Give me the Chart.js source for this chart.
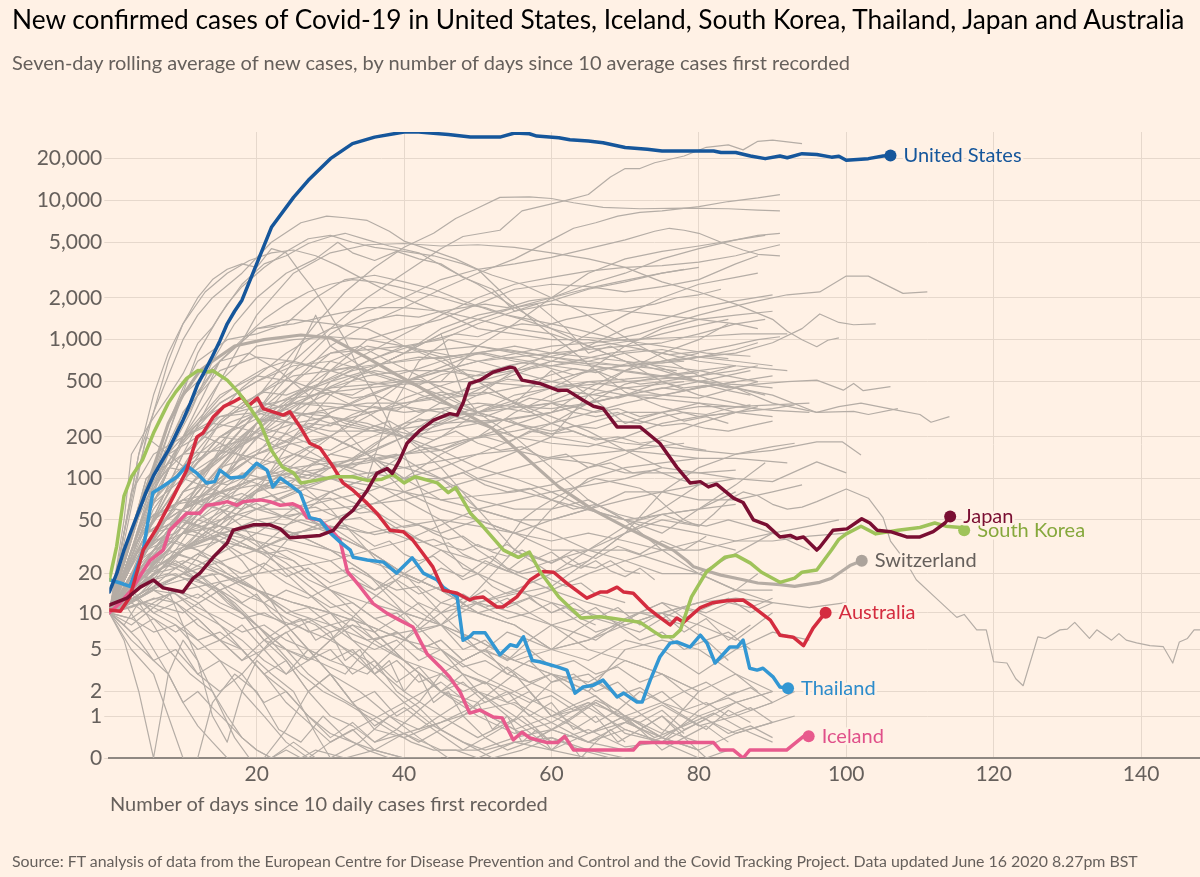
<!DOCTYPE html>
<html><head><meta charset="utf-8">
<script src="https://cdn.jsdelivr.net/npm/chart.js@4.4.0/dist/chart.umd.min.js"></script>
<style>
html,body{margin:0;padding:0;background:#fff1e5;}
#wrap{position:relative;width:1200px;height:877px;overflow:hidden;font-family:Lato,"Open Sans",sans-serif;}
canvas{position:absolute;left:0;top:0;}
.t{position:absolute;white-space:nowrap;line-height:1;}
#title{left:12px;top:6px;font-size:26.3px;color:#000;}
#sub{left:12px;top:52px;font-size:20px;color:#66605c;}
#xt{left:110px;top:793px;font-size:20px;color:#66605c;}
#src{left:12px;top:853px;font-size:15.9px;color:#66605c;}
</style></head>
<body><div id="wrap">
<canvas id="c" width="1200" height="877"></canvas>
<div class="t" id="title">New confirmed cases of Covid-19 in United States, Iceland, South Korea, Thailand, Japan and Australia</div>
<div class="t" id="sub">Seven-day rolling average of new cases, by number of days since 10 average cases first recorded</div>
<div class="t" id="xt">Number of days since 10 daily cases first recorded</div>
<div class="t" id="src">Source: FT analysis of data from the European Centre for Disease Prevention and Control and the Covid Tracking Project. Data updated June 16 2020 8.27pm BST</div>
</div>
<script>
// ---------- DATA ----------
const xTicks = [20, 40, 60, 80, 100, 120, 140];
const yTickValues = [0, 1, 2, 5, 10, 20, 50, 100, 200, 500, 1000, 2000, 5000, 10000, 20000];
const yTickLabels = ["0", "1", "2", "5", "10", "20", "50", "100", "200", "500", "1,000", "2,000", "5,000", "10,000", "20,000"];

// [day, 7-day average cases]
const unitedStates = [[0,14.5],[1,20],[2,30],[3,42],[4,58],[5,80],[6,105],[7,130],[8,160],[9,205],[10,264],[11,350],[12,480],[13,600],[14,760],[15,980],[16,1300],[17,1600],[18,1920],[20,3500],[22,6400],[25,10500],[27,13900],[30,19900],[33,25500],[36,28400],[40,30900],[42,30900],[46,29600],[49,28400],[53,28400],[55,30400],[57,30000],[58,28900],[61,28100],[62.5,27200],[65,26600],[67,25900],[70,23900],[73,23200],[75,22600],[82,22600],[83,22000],[85,22000],[87,20800],[89,19900],[91,20800],[92,20200],[94,21600],[96,21300],[98,20400],[99,20700],[100,19400],[103,19900],[105,20800],[106,21000]];
const southKorea = [[0,17.9],[1,32],[2,75],[3,103],[4.5,136],[6,213],[8,350],[9,420],[10.5,527],[12,600],[13.5,585],[14,600],[16,512],[17.5,420],[19,330],[20.5,250],[22,160],[23.5,121],[25,110],[26,93],[28,97],[30.5,103],[33,103],[35,97],[37,99],[38.5,107],[40,93],[41.5,103],[44.5,93],[46,79],[47,86],[49,56],[50.5,46],[53.5,30],[55.5,26.5],[57,29],[58.5,20.5],[61,13.3],[64,9.1],[66.5,9.3],[68,9.1],[70,8.75],[72,8.4],[74,7],[75,6.4],[76.5,6.4],[77.5,7.3],[79,13.3],[81,20.5],[83.5,26.5],[85,27.5],[87,24],[88.5,20.5],[91,17.2],[93,18.5],[94,20.5],[96,21.3],[97,25.3],[98,30],[99,36],[100,39.5],[102,45],[104,39.5],[107,42],[110,44],[112,47.5],[113.5,45],[115.5,44],[116,42]];
const japan = [[0,11.5],[2.4,13],[4.2,15.8],[6,17.9],[7.3,15.6],[10,14.5],[11.4,18.5],[12.3,20.2],[14.1,26.5],[16,33.8],[16.8,42],[19.5,46],[21.8,46],[23.2,43],[24.5,37],[26,37.5],[28.6,38.5],[30.4,42],[31.7,51],[33.1,59],[35,82],[36.3,109],[37.7,118],[38.4,109],[39.4,136],[40.4,180],[42.2,224],[44,264],[46.2,294],[47.2,287],[48,350],[48.9,485],[50.3,512],[52.1,585],[54.4,635],[55,625],[56,512],[58.4,485],[60.8,434],[62.1,434],[64.3,367],[65.7,332],[67,320],[68.9,236],[72,236],[74.7,180],[77,121],[78.8,93],[80.2,95],[81.3,87],[82.4,91],[84.7,72],[86,67],[87.4,50],[89.2,46],[91,37.5],[92.4,38.5],[93.3,36.5],[94.2,37.5],[96,30],[96.4,31.5],[98.2,42],[100.1,43],[102.1,51],[103.2,47.5],[104.2,42],[106,41],[108.2,37.5],[110,37.5],[111.8,41],[113.4,47.5],[114.1,53]];
const australia = [[0,10.5],[1.5,10.3],[2.8,13.3],[4.6,30],[6.5,44],[8.7,74],[10.5,115],[11.9,200],[12.7,213],[14.1,278],[15.5,330],[16.8,357],[18,387],[18.9,336],[20.1,380],[20.9,320],[22.2,303],[23.6,287],[24.5,303],[25.9,236],[27.2,180],[28.6,166],[30.4,121],[31.7,93],[33.1,82],[35,66],[36.3,56],[38.1,42],[39.9,41],[41.2,35.5],[42.2,30],[43.9,22.5],[45.3,15],[47.2,14.2],[48.9,12.6],[49.4,13],[50.7,13.3],[52.6,11.1],[53.4,11.1],[55.3,13.3],[57.1,17.9],[58.9,20.8],[60.3,20.5],[62.1,16.9],[64.8,13],[66.6,14.5],[67.5,14.5],[68.9,15.8],[69.8,14.5],[71.1,14.2],[73,11],[74.3,9.6],[76.1,8],[77,9.1],[77.9,8.4],[80.2,11],[81.9,12],[83.8,12.4],[86,12.6],[87.4,11.1],[89.7,8.75],[91,6.6],[92.8,6.35],[94.2,5.4],[95.5,7.55],[96.9,9.6],[97.2,10]];
const thailand = [[0,18],[1.5,17],[2.8,16],[4.6,30],[5.9,79],[7.3,88],[9.2,103],[10.5,124],[11.9,109],[13.2,93],[14.3,95],[15,115],[16.4,101],[18.2,103],[20,129],[21.4,115],[22.2,87],[23.2,101],[24.5,90],[25.9,79],[27.2,52],[28.6,49.8],[29.9,40.5],[31.3,34.5],[32.7,30],[33.1,26.5],[35,25.3],[37.2,24.4],[39,20.2],[41.1,26.3],[42.6,20.2],[44.5,17.9],[45.3,15.8],[47.2,13.3],[48,6],[48.9,6.4],[49.4,6.9],[51,6.9],[53,4.5],[54.4,5.5],[55.3,5.3],[56.2,6.4],[57.4,4],[58.4,3.9],[60.8,3.5],[62.1,3.27],[63.2,1.92],[64.3,2.23],[65.7,2.33],[67,2.62],[68.9,1.74],[69.8,1.92],[71.6,1.52],[72.3,1.52],[73.4,2.62],[74.7,4.3],[76.1,5.67],[77,5.8],[78.8,5.25],[80.2,6.6],[81.1,5.67],[82.2,3.8],[84.2,5.25],[85.2,5.25],[86,6],[86.9,3.4],[87.9,3.27],[88.7,3.4],[90.1,2.8],[91,2.23],[92.1,2.17]];
const iceland = [[0,10],[1.5,12],[3,15],[4.6,21],[5.5,25],[7.3,30],[8.2,42],[10.5,56],[12.3,56],[13.2,64],[15,66],[16,68],[17.3,64],[18.2,68],[20.5,70],[21.8,68],[23.2,64],[24.9,65.5],[25.9,62],[26.8,52],[28.6,49.8],[30.4,40.5],[31.3,35.5],[32.3,20.8],[34,16],[35.8,11.8],[37.7,9.9],[39.4,8.75],[41.2,7.7],[43.1,4.6],[44.9,3.5],[46.2,2.8],[47.6,1.97],[48.9,1.1],[50.3,1.21],[52.1,0.97],[53.3,0.94],[54.8,0.35],[56,0.53],[57.1,0.39],[59.4,0.29],[60.8,0.29],[61.8,0.43],[63,0.14],[71.1,0.14],[72,0.29],[82,0.29],[82.9,0.14],[84.7,0.14],[86,0],[86.9,0.14],[91.9,0.14],[94.2,0.43],[94.9,0.43]];
const switzerland = [[0,10],[2,25],[4,60],[6,120],[8,250],[10,400],[12.3,600],[14,700],[17,900],[21,1000],[26,1080],[30,1030],[35,740],[39,560],[42,460],[45,370],[48,300],[52,230],[56,150],[61,87],[65.7,59],[70,44.5],[73,37],[76.5,30],[78.4,25],[79.3,22.5],[81,21],[83,19.5],[86,18],[88,17],[91,16.5],[93,16],[96.4,17.2],[98,18.5],[99.2,20.5],[100.5,23],[102.1,25]];

// other countries: flat lists of day, value
const otherCountries = [
 [0,10, 2,40, 4,150, 6,300, 8,550, 10,1000, 12,1500, 14,2000, 18,3000, 22,5000, 26,6900, 29.5,7700, 32,7500, 35,7170, 38,6000, 40,5100, 43,4500, 47,3800, 50,3200, 54,2000, 58,1300, 62,900, 66,600, 70,420, 75,330, 80,280, 85,300, 90,320, 93,340],
 [0,10, 2,50, 3,150, 5.5,250, 8,390, 10,570, 12,940, 14,1230, 16,1800, 18,2400, 21,3300, 24,4300, 27,5300, 30,5600, 33,5000, 36,4600, 40,4300, 44,4000, 48,3500, 52,2900, 56,2500, 60,2000, 64,1600, 68,1200, 72,900, 76,700, 80,550, 85,450, 90,350, 96,300, 99,330, 102,350, 107,310, 110,290, 111.5,255, 114,280],
 [0,10, 3,30, 6,100, 9,300, 12,800, 15,1500, 18,2500, 21,3500, 24,4000, 27,4900, 30,5500, 32,5800, 35,5200, 38,4700, 42,4200, 46,3200, 50,2500, 55,1700, 60,1200, 65,900, 70,700, 75,600, 80,500, 85,450, 90,400, 96,300, 101,305, 103,290, 107,320],
 [0,10, 4,40, 8,150, 11,300, 14,700, 17,1300, 20,2000, 24,3000, 28,3800, 31,5000, 33,4200, 36,3700, 39,4300, 42,3800, 45,3500, 48,2800, 52,2300, 55,1600, 58,1800, 62,1200, 65,800, 68,900, 72,700, 76,600, 80,500, 84,450, 88,480, 92,500, 96,512, 99.6,434, 101,485, 102.3,430, 106,460],
 [0,10, 5,40, 10,150, 15,500, 20,1500, 25,3000, 30,4200, 35,4800, 40,4900, 45,4700, 50,4800, 55,4600, 60,4200, 65,3800, 70,3300, 75,2600, 80,2200, 85,1800, 90,1400, 92,1150, 94,1000, 96,890, 97.5,990, 99,1030],
 [0,10, 2,40, 4,150, 6,400, 8,800, 10,1300, 13,2200, 16,3000, 19,3700, 22,4200, 25,4400, 28,4000, 31,3400, 34,2800, 38,2200, 42,1800, 46,1500, 50,1200, 55,1100, 60,1000, 65,1000, 70,900, 75,950, 80,1100, 85,1300, 89,1400],
 [0,10, 2,30, 4,60, 6,120, 8,250, 10,450, 12,700, 16,1000, 20,1100, 24,1300, 28,2000, 32,2700, 36,2900, 40,2600, 44,2300, 48,1900, 52,1600, 56,1400, 60,1200, 64,1050, 68,1000, 72,1100, 76,1300, 80,1500, 84,1700, 88,1900, 92,2100, 96.4,2200, 100,2860, 103,2860, 107.7,2150, 111,2200],
 [0,10, 4,60, 8,120, 12,110, 16,150, 20,250, 25,350, 30,450, 35,550, 40,600, 45,600, 50,550, 55,600, 60,650, 65,600, 70,650, 75,700, 80,750, 85,800, 90,950, 94,1200, 96.4,1530, 99,1330, 101,1280, 104,1300],
 [0,10, 4,18, 8,40, 12,90, 16,200, 20,380, 24,700, 28,1300, 32,2200, 36,3300, 40,4600, 44,5800, 47,7400, 50,8800, 53,10500, 57,10600, 60,10300, 63,9600, 67,8900, 72,8700, 78,8800, 84,8700, 88,8500, 91,8400],
 [0,10, 5,25, 10,60, 15,150, 20,300, 25,700, 30,1200, 35,2000, 40,3000, 45,4500, 48,5500, 53,6100, 56,8400, 62,10000, 65,11000, 68,14700, 70,16900, 72,16900, 74,18600, 78,20800, 81,24000, 84,25000, 86,23000, 88,26500, 90,27000, 94,25500],
 [0,10, 5,20, 10,45, 15,90, 20,250, 25,500, 30,900, 35,1300, 40,1700, 45,2300, 50,3000, 55,3800, 60,5200, 63,6300, 66,6900, 69,7700, 72,8200, 75,8400, 80,9000, 84,9800, 88,10400, 91,11000],
 [0,10, 5,30, 10,80, 15,150, 20,300, 25,600, 30,1100, 35,1600, 40,2000, 45,2700, 50,3200, 55,3500, 60,3900, 65,4500, 70,5200, 74,6000, 76,6300, 78,6100, 80,5800, 83,5000, 86,4400, 88,4100, 91,4000],
 [0,10, 5,40, 10,150, 15,280, 20,330, 25,380, 30,420, 35,450, 40,480, 45,500, 50,900, 55,1300, 60,2000, 65,3000, 70,3800, 75,4300, 80,4700, 85,5200, 88,5600, 91,5800],
 [0,10, 5,20, 10,60, 15,120, 20,250, 25,400, 30,600, 35,800, 40,1100, 45,1500, 50,2000, 55,2500, 60,2800, 65,3100, 70,3300, 75,3400, 80,3600, 85,4000, 88,4400, 91,4800],
 [0,10, 4,60, 8,150, 12,200, 16,250, 20,300, 25,400, 30,500, 35,600, 40,800, 45,1200, 50,1500, 55,1700, 60,2000, 65,2500, 70,3000, 75,3800, 80,4500, 85,5200, 89,5600],
 [0,10, 5,30, 10,80, 15,100, 20,150, 25,300, 30,600, 35,1000, 40,1200, 45,1400, 50,1800, 55,2300, 60,2500, 65,2400, 70,2200, 75,2400, 80,2700, 85,3500, 88,4000],
 [0,10, 10,20, 20,80, 25,200, 30,400, 35,600, 40,800, 45,1100, 50,1400, 55,1700, 60,1900, 65,2300, 70,2600, 75,3000, 80,3300],
 [0,10, 5,50, 10,200, 15,700, 20,1200, 25,1300, 30,1500, 35,1700, 40,1700, 45,1600, 50,1400, 55,1200, 60,1100, 65,900, 70,700, 75,500, 80,400, 85,350, 87,330],
 [0,10, 5,60, 10,300, 15,700, 20,1200, 25,1400, 30,1300, 35,1200, 40,900, 45,700, 50,500, 55,350, 60,280, 65,220, 70,160, 75,120, 80,110, 85,100, 90,95, 96,132, 100,110],
 [0,10, 5,50, 10,200, 15,500, 20,900, 25,1000, 30,1050, 35,1000, 40,900, 45,750, 50,500, 55,350, 60,250, 65,200, 70,180, 75,170, 80,160, 85,150, 90,160, 96,184, 99.5,184, 102,148],
 [0,10, 5,100, 10,200, 15,350, 20,500, 25,700, 28,1500, 30,900, 35,600, 40,800, 45,1100, 48,400, 50,300, 55,350, 60,600, 65,400, 70,250, 75,300, 80,350, 85,300, 90,280],
 [0,10, 5,15, 10,30, 15,60, 20,120, 25,250, 30,500, 35,700, 40,900, 45,1000, 50,1300, 55,1600, 60,1800, 65,1700, 70,1600, 75,1500, 80,1400, 85,1300, 88,1200],
 [0,10, 10,20, 20,40, 25,60, 30,80, 35,100, 38,300, 42,700, 46,1000, 50,900, 55,800, 60,700, 65,650, 70,600, 75,550, 80,500, 85,450, 89,400],
 [0,10, 5,80, 10,300, 15,600, 20,750, 25,700, 30,600, 35,500, 40,450, 45,350, 50,300, 55,250, 60,220, 65,250, 70,300, 75,300, 80,330, 85,330, 90,340, 95,350],
 [0,10, 5,80, 10,400, 15,700, 19,800, 23,600, 27,400, 31,250, 35,150, 40,80, 45,60, 50,50, 55,40, 60,35, 65,40, 70,35, 75,30, 80,30, 85,35, 90,40, 95,45, 99,50],
 [0,10, 5,30, 10,100, 15,250, 20,400, 25,600, 30,800, 34,900, 38,700, 42,550, 46,400, 50,300, 55,200, 60,120, 65,70, 70,50, 75,30, 80,20, 85,15, 90,12],
 [0,10, 5,50, 10,200, 15,400, 20,550, 25,500, 30,400, 35,300, 40,200, 45,120, 50,60, 55,30, 60,20, 65,25, 70,40, 75,80, 80,120, 85,150, 90,170, 93,180],
 [0,10, 5,30, 10,100, 15,200, 20,300, 25,350, 30,350, 35,330, 40,300, 45,320, 50,350, 55,330, 60,320, 65,350, 70,400, 75,400, 80,380, 85,450, 88,500],
 [0,10, 5,30, 10,100, 15,200, 20,300, 25,350, 30,330, 35,300, 40,330, 45,300, 50,250, 55,200, 60,180, 65,170, 70,200, 75,250, 80,280, 85,300, 88,330],
 [0,10, 5,200, 8,150, 12,100, 16,150, 20,200, 25,250, 30,280, 35,250, 40,200, 45,160, 50,120, 55,100, 60,80, 65,60, 70,50, 75,45, 80,40, 85,35, 90,35, 95,38, 100,40],
 [0,10, 3,80, 6,150, 10,200, 14,250, 18,230, 22,200, 26,170, 30,130, 35,100, 40,70, 45,50, 50,30, 55,20, 60,15, 65,12, 70,10, 75,10, 80,12, 85,13, 90,12, 95,11, 100,12],
 [0,10, 5,40, 10,100, 15,200, 20,270, 25,250, 30,200, 35,150, 40,100, 45,70, 50,60, 55,50, 60,50, 65,60, 70,80, 75,80, 80,70, 85,70, 90,80, 94,90],
 [0,10, 5,50, 10,200, 15,280, 20,300, 25,250, 30,220, 35,220, 40,230, 45,250, 50,260, 55,270, 60,300, 65,350, 70,400, 75,500, 80,550, 85,600, 88,650],
 [0,10, 5,40, 10,100, 15,150, 20,200, 25,280, 30,320, 35,350, 40,350, 45,380, 50,400, 55,450, 60,500, 65,600, 70,650, 75,700, 80,750, 85,850, 88,950],
 [0,10, 5,60, 10,100, 15,80, 20,60, 25,80, 30,120, 35,150, 40,200, 45,300, 50,400, 55,600, 60,800, 65,1100, 70,1500, 75,2000, 80,2500, 85,2800, 88,3000],
 [0,10, 10,40, 20,80, 30,120, 40,200, 50,300, 60,450, 65,600, 70,900, 75,1200, 80,1400, 85,1500, 90,1600],
 [0,10, 10,60, 20,150, 30,250, 40,350, 50,450, 60,700, 65,900, 70,1200, 75,1400, 80,1700, 85,1900, 90,2100],
 [0,10, 10,60, 20,100, 30,120, 40,150, 50,200, 60,300, 65,450, 70,600, 75,800, 80,1000, 84,1300],
 [0,10, 10,60, 20,250, 30,450, 40,500, 50,500, 60,450, 70,500, 80,550, 85,650],
 [0,10, 10,40, 20,200, 30,700, 35,900, 40,800, 50,900, 60,750, 70,650, 77,600],
 [0,10, 10,30, 20,80, 30,200, 40,500, 50,800, 55,900, 60,800, 70,700, 80,600, 88,500],
 [0,10, 10,80, 15,150, 20,250, 25,300, 30,250, 40,200, 50,250, 60,300, 70,400, 80,500, 87,600],
 [0,10, 10,80, 20,250, 25,300, 30,280, 40,200, 50,100, 60,70, 70,50, 80,60, 85,80],
 [0,10, 5,100, 10,150, 15,160, 20,140, 25,120, 30,100, 35,80, 40,50, 45,40, 50,50, 55,40, 60,30, 70,30, 80,20, 90,40, 95,30],
 [0,10, 5,40, 10,60, 15,80, 20,100, 25,120, 30,130, 35,140, 40,120, 45,100, 50,60, 55,50, 60,40, 65,30, 70,25, 75,20, 80,20, 85,15, 90,15],
 [0,10, 5,40, 10,60, 15,80, 20,90, 25,60, 30,40, 35,30, 40,20, 45,15, 50,10, 55,8, 60,5, 65,4, 70,6, 75,5, 80,3, 85,5, 90,7, 95,6],
 [0,10, 5,80, 10,150, 13,200, 16,170, 20,120, 25,100, 30,60, 35,30, 40,15, 45,8, 50,5, 55,4, 60,3, 65,2, 70,5, 75,6, 80,5, 85,3, 90,2],
 [0,10, 5,50, 10,70, 15,80, 20,60, 25,50, 30,40, 35,30, 40,20, 45,10, 50,5, 55,3, 60,1, 65,1.3, 70,0.6, 75,0.3, 80,1.2, 85,2],
 [0,10, 5,50, 10,70, 15,60, 20,50, 25,40, 30,30, 35,20, 40,12, 45,8, 50,6, 55,4, 60,3, 65,2, 70,1, 75,1.5, 80,1, 85,0.5, 90,0.8],
 [0,10, 5,40, 10,50, 15,40, 20,35, 25,30, 30,25, 35,15, 40,10, 45,5, 50,2, 55,1, 60,0.3, 65,0.6, 70,0.2, 75,0.3, 80,0.8, 85,1.5, 90,2],
 [0,10, 5,30, 10,50, 15,40, 20,30, 25,25, 30,15, 35,12, 40,10, 45,8, 50,6, 55,4, 60,5, 65,6, 70,8, 75,10, 80,12, 85,15, 88,20],
 [0,10, 4,20, 8,30, 12,25, 16,20, 20,15, 25,12, 30,10, 35,8, 40,6, 45,5, 50,3, 55,2, 60,1.2, 65,0.5, 70,0.8, 75,1.4, 80,0.7, 85,1, 90,1.5],
 [0,10, 5,20, 10,30, 15,35, 20,30, 25,40, 30,45, 35,40, 40,45, 45,50, 50,45, 55,40, 60,50, 65,60, 70,70, 75,80, 80,90, 85,100],
 [0,10, 5,30, 10,50, 15,70, 20,100, 25,90, 30,80, 35,60, 40,40, 45,30, 50,20, 55,15, 60,12, 65,10, 70,8, 75,10, 80,8, 85,6, 90,10],
 [0,10, 5,30, 10,40, 15,35, 20,30, 25,20, 30,12, 35,8, 40,4, 45,3, 50,2, 55,1.4, 60,0.6, 65,0.3, 70,0.14, 75,0.4, 80,1, 85,1.5, 90,2],
 [0,10, 5,15, 10,20, 15,15, 20,10, 25,8, 30,6, 35,4, 40,2, 45,1, 50,0.4, 55,0.9, 60,2.5, 65,3, 70,1.5, 75,0.6, 80,0.3],
 [0,10, 4,25, 8,35, 12,30, 16,20, 20,15, 24,10, 28,8, 32,5, 36,3, 40,1.5, 44,0.7, 48,0.3, 52,0, 56,0.14, 60,0.4, 64,0.14, 68,0],
 [0,10, 3,15, 6,10, 9,8, 12,6, 15,4, 18,3, 22,6, 26,8, 30,10, 35,6, 40,4, 45,2, 50,1, 55,0.5, 60,0.8, 65,0.3, 70,0.6, 75,0.3, 80,0],
 [0,10, 2,8, 4,6, 6,4, 8,3, 10,1.5, 12,2, 14,1.3, 16,0.8, 18,0.4, 20,0.14, 22,0, 26,0, 28,0.14, 32,0, 36,0.14, 40,0],
 [0,10, 3,30, 6,50, 9,65, 12,70, 15,60, 18,45, 21,30, 24,20, 27,14, 30,10, 33,6, 36,4, 39,2, 42,1.3, 45,0.6, 48,0.3, 51,0.14, 55,0.3, 60,0.14, 65,0, 80,0],
 [0,10, 2,12, 4,8, 6,5, 8,3, 10,1.5, 12,0.7, 14,0.3, 16,0, 22,0, 24,0.14, 26,0, 30,0],
 [0,10, 3,9, 6,12, 9,15, 12,12, 15,8, 18,5, 21,3, 24,2, 27,1, 30,0.5, 33,0.3, 36,0.14, 40,0.5, 45,0.8, 50,1.2, 55,1.5, 60,0.8, 65,1.5, 70,0.5, 75,0.3],
 [0,10, 3,15, 6,20, 9,22, 12,18, 15,14, 18,10, 21,6, 24,4, 27,2, 30,1, 33,0.7, 36,0.3, 40,0.5, 45,0.14, 50,0.14, 55,0.4, 60,0.6, 65,0.3, 70,0.8, 75,0.4, 80,0.14],
 [0,10, 3,25, 6,40, 9,50, 12,45, 15,35, 18,25, 21,15, 24,8, 27,5, 30,3, 33,1.5, 36,0.6, 40,0.4, 45,0.8, 50,1.4, 55,2, 60,3, 65,2.5, 70,4, 75,3, 80,2, 85,3, 88,2],
 [0,10, 3,20, 6,18, 9,14, 12,10, 15,8, 18,6, 21,4, 24,3, 27,5, 30,4, 35,3, 40,6, 45,12, 50,10, 55,8, 60,5, 65,6, 70,9, 75,12, 80,10, 85,7],
 [0,10, 3,15, 6,20, 9,25, 12,20, 15,15, 18,10, 21,6, 24,5, 27,4, 30,6, 35,12, 40,20, 45,30, 50,25, 55,20, 60,25, 65,30, 70,40, 75,50, 80,45],
 [0,10, 2,15, 4,20, 6,18, 8,15, 10,8, 12,4, 14,2, 16,1, 18,0.4, 20,0.14, 22,0, 25,0.3, 28,0, 40,0],
 [0,10, 3,12, 6,15, 9,12, 12,8, 15,6, 18,5, 21,3, 24,1.5, 27,0.8, 30,0.3, 33,0.6, 36,0.14, 40,0, 45,0],
 [0,10, 2,14, 5,18, 8,20, 11,18, 14,16, 17,12, 20,8, 23,5, 26,3, 29,2, 32,1.5, 35,1, 38,0.6, 41,0.3, 44,0.14, 47,0.14, 50,0, 55,0.3, 60,0.4, 65,0.14, 70,0],
 [0,10, 5,25, 10,40, 15,45, 20,40, 25,35, 30,30, 35,25, 40,20, 45,15, 50,10, 55,12, 60,15, 65,20, 70,25, 75,30, 80,35, 85,30],
 [0,10, 5,20, 10,30, 15,40, 20,45, 25,40, 30,30, 35,20, 40,10, 45,8, 50,15, 55,30, 60,60, 65,100, 70,120, 75,130, 80,140],
 [0,10, 5,15, 10,18, 15,20, 20,15, 25,12, 30,10, 35,8, 40,6, 45,10, 50,12, 55,14, 60,16, 65,25, 70,40, 75,55, 80,60, 85,65],
 [0,10, 5,30, 10,60, 15,80, 20,100, 25,110, 30,100, 35,90, 40,80, 45,70, 50,75, 55,80, 60,90, 65,120, 70,150, 75,200, 80,250, 85,300],
 [0,10, 5,20, 10,40, 15,50, 20,60, 25,60, 30,70, 35,80, 40,100, 45,150, 50,200, 55,300, 60,400, 65,500, 70,520, 75,550, 80,580],
 [0,10, 10,30, 20,70, 30,100, 40,120, 50,150, 60,250, 70,350, 80,450, 85,500],
 [0,10, 10,30, 20,50, 30,60, 40,70, 50,100, 60,140, 70,160, 78,180],
 [0,10, 10,30, 20,60, 30,100, 40,250, 50,500, 60,700, 70,650, 78,700],
 [0,10, 10,30, 20,80, 30,150, 40,250, 50,300, 60,350, 70,450, 78,500],
 [0,10, 5,40, 10,60, 15,90, 20,120, 25,150, 30,130, 35,110, 40,100, 45,120, 50,150, 55,160, 60,140, 65,130, 70,110, 75,110, 80,110, 85,115],
 [0,10, 5,30, 10,60, 15,120, 20,150, 25,180, 30,200, 35,150, 40,100, 45,100, 50,70, 55,60, 60,60, 65,70, 70,50, 75,40, 80,60, 85,90, 89,130],
 [0,10, 5,20, 10,40, 15,45, 20,35, 25,25, 30,15, 35,8, 40,4, 45,2, 50,1.2, 55,0.6, 60,1, 65,1.5, 70,1, 75,0.4],
 [0,10, 5,20, 10,25, 15,20, 20,15, 25,10, 30,8, 35,6, 40,7, 45,8, 50,12, 55,15, 60,20, 65,30, 70,45, 75,60, 80,90],
 [0,10, 4,20, 8,25, 12,20, 16,12, 20,8, 24,5, 28,4, 32,3, 36,6, 40,4, 45,2, 50,1.5, 55,3, 60,1, 65,0.5, 70,1, 75,0.5, 80,2],
 [0,10, 5,60, 10,120, 15,170, 20,200, 25,150, 30,120, 35,130, 40,150, 45,160, 50,200, 55,220, 60,250, 65,350, 70,480, 75,550, 80,600, 85,650],
 [0,10, 5,20, 10,30, 15,40, 20,30, 25,50, 30,80, 35,100, 40,150, 45,200, 50,300, 55,400, 60,450, 65,500, 70,450, 75,400, 80,450, 85,500, 90,550],
 [0,10, 10,20, 20,30, 30,50, 40,80, 50,120, 60,200, 65,400, 70,600, 75,700, 80,800],
 [0,10, 5,12, 10,10, 15,15, 20,20, 25,40, 30,45, 35,30, 40,20, 45,15, 50,12, 55,10, 60,8, 65,5, 70,4, 75,3, 80,2],
 [0,10, 10,15, 20,20, 30,25, 40,35, 50,60, 60,80, 70,100, 75,120],
 [0,10, 2,6, 4,2, 6,0, 8,3, 10,6, 12,4, 14,1, 16,0.3, 18,2, 20,4, 22,3, 25,2, 28,0.5, 30,0, 34,0.3, 38,1, 42,0.4, 46,0],
 [0,10, 3,5, 6,3, 8,1, 10,0, 12,0, 14,1.5, 17,3, 20,2, 23,0.6, 26,0.3, 29,1, 32,0.4, 35,0.14, 38,0],
 [0,10, 2,8, 4,12, 6,8, 8,5, 11,3, 14,2, 17,0.4, 19,0, 21,0, 24,0.6, 27,2, 30,3, 33,1.5, 36,0.7, 40,1.3, 44,0.6, 48,0.14, 52,0.5, 56,1, 60,0.3],
 [0,10, 3,7, 6,9, 9,6, 12,3, 15,4, 18,2, 21,1, 24,0.3, 27,0, 30,0.3, 35,0.8, 40,1.5, 45,2.5, 50,1.2, 55,0.6, 60,0.14, 65,0.5, 70,1, 75,0.4, 80,0.14, 85,0.5, 90,0.8],
 [0,10, 3,14, 6,10, 9,12, 12,9, 15,6, 18,4, 21,6, 24,8, 27,5, 30,3, 34,2, 38,1, 42,0.6, 46,1.2, 50,2, 54,1, 58,0.4, 62,0.8, 66,1.5, 70,0.9, 74,0.4, 78,0.7, 82,1.1, 86,0.6, 90,0.3],
 [0,10, 5,40, 10,120, 15,250, 20,400, 25,550, 30,600, 35,650, 40,700, 45,750, 50,800, 55,700, 60,650, 65,700, 70,800, 75,850, 80,750, 85,700, 90,650],
 [0,10, 5,20, 10,50, 15,100, 20,150, 25,200, 30,300, 35,400, 40,500, 45,600, 50,700, 55,750, 60,800, 65,850, 70,900, 75,800, 80,700, 85,650, 92,600],
 [0,10, 10,80, 20,300, 30,800, 40,900, 50,700, 60,500, 70,400, 80,350, 90,310, 95,300],
 [0,10, 5,60, 10,180, 15,350, 20,500, 25,650, 30,700, 35,600, 40,500, 45,400, 50,300, 55,250, 60,200, 65,180, 70,160, 75,150, 80,140, 85,140, 92,130],
 [0,10, 10,40, 20,120, 30,300, 40,500, 50,700, 60,900, 70,1000, 80,1050, 86,1100, 92,1100],
 [0,10, 3,25, 6,50, 9,80, 12,130, 15,180, 18,260, 21,300, 24,280, 27,350, 30,420, 33,400, 36,480, 39,520, 42,470, 45,560, 48,610, 51,580, 54,650, 57,700, 60,620, 63,560, 66,600, 69,520, 72,480, 75,500, 78,450, 81,470, 84,430, 87,400],
 [0,10, 3,18, 6,30, 9,45, 12,70, 15,100, 18,140, 21,170, 24,210, 27,250, 30,240, 33,290, 36,330, 39,310, 42,380, 45,420, 48,390, 51,460, 54,520, 57,500, 60,560, 63,620, 66,580, 69,650, 72,700, 75,680, 78,720, 81,760, 84,730],
 [0,10, 2,20, 4,45, 6,80, 8,130, 10,190, 12,250, 14,300, 16,340, 18,320, 20,360, 23,330, 26,290, 29,300, 32,250, 35,230, 38,260, 41,210, 44,190, 47,220, 50,180, 53,160, 56,170, 59,140, 62,150, 65,120, 68,130, 71,110, 74,115, 77,100, 80,90],
 [0,10, 3,20, 6,40, 9,60, 12,55, 15,80, 18,110, 21,100, 24,140, 27,170, 30,160, 33,200, 36,240, 39,220, 42,270, 45,250, 48,300, 51,340, 54,320, 57,380, 60,360, 63,420, 66,400, 69,380, 72,420, 75,450, 78,430, 81,470],
 [0,10, 3,30, 6,70, 9,110, 12,150, 15,200, 18,190, 21,230, 24,210, 27,180, 30,200, 33,170, 36,140, 39,150, 42,120, 45,100, 48,110, 51,90, 54,80, 57,85, 60,70, 63,60, 66,65, 69,55, 72,50, 75,55, 78,48, 81,45, 84,50, 87,45, 90,40],
 [0,10, 4,15, 8,25, 12,40, 16,60, 20,90, 24,130, 28,180, 32,230, 36,300, 40,380, 44,450, 48,520, 52,600, 56,680, 60,650, 64,720, 68,800, 72,850, 76,780, 80,820, 84,900, 88,1000, 91,1050],
 [0,10, 3,12, 6,18, 9,30, 12,50, 15,45, 18,70, 21,90, 24,85, 27,120, 30,150, 33,140, 36,180, 39,220, 42,200, 45,260, 48,300, 51,280, 54,320, 57,300, 60,350, 63,330, 66,300, 69,320, 72,280, 75,300, 78,260, 81,280, 84,250],
 [0,10, 3,40, 6,90, 9,160, 12,250, 15,380, 18,500, 21,620, 24,700, 27,650, 30,600, 33,640, 36,560, 39,500, 42,520, 45,460, 48,400, 51,420, 54,370, 57,330, 60,350, 63,300, 66,280, 69,300, 72,260, 75,240, 78,250, 81,230, 84,220, 87,240, 90,260],
 [0,10, 3,14, 6,20, 9,35, 12,55, 15,90, 18,150, 21,220, 24,300, 27,380, 30,460, 33,540, 36,600, 39,560, 42,620, 45,700, 48,760, 51,800, 54,740, 57,700, 60,760, 63,820, 66,900, 69,950, 72,1000, 75,1100, 78,1200, 81,1300, 84,1400],
 [0,10, 3,20, 6,35, 9,40, 12,60, 15,75, 18,70, 21,90, 24,110, 27,100, 30,130, 33,120, 36,150, 39,140, 42,170, 45,160, 48,190, 51,200, 54,180, 57,220, 60,210, 63,240, 66,230, 69,260, 72,250, 75,280, 78,300, 81,290, 84,320, 87,340],
 [0,10, 3,25, 6,60, 9,100, 12,180, 15,260, 18,350, 21,420, 24,400, 27,460, 30,430, 33,380, 36,400, 39,350, 42,300, 45,320, 48,270, 51,250, 54,270, 57,230, 60,210, 63,220, 66,190, 69,200, 72,180, 75,190, 78,170, 81,160],
 [0,10, 2,15, 5,25, 8,40, 11,60, 14,100, 17,150, 20,220, 23,300, 26,400, 29,500, 32,600, 35,700, 38,800, 41,900, 44,1000, 47,1100, 50,1050, 53,1200, 56,1300, 59,1250, 62,1400, 65,1500, 68,1600, 71,1700, 74,1800, 77,2000, 80,2100, 83,2300],
 [0,10, 3,30, 6,90, 9,200, 12,400, 15,700, 18,1000, 21,1400, 24,1800, 27,2200, 30,2500, 33,2700, 36,2600, 39,2400, 42,2200, 45,2000, 48,1800, 51,1700, 54,1500, 57,1400, 60,1300, 63,1200, 66,1100, 69,1000, 72,950, 75,900, 78,850, 81,800, 84,780, 87,760],
 [0,10, 3,20, 6,50, 9,100, 12,180, 15,300, 18,450, 21,600, 24,800, 27,1000, 30,1200, 33,1300, 36,1400, 39,1500, 42,1450, 45,1600, 48,1700, 51,1800, 54,1700, 57,1900, 60,2000, 63,2200, 66,2400, 69,2600, 72,2800, 75,3000, 78,3200],
 [0,10, 3,15, 6,30, 9,50, 12,80, 15,120, 18,180, 21,250, 24,350, 27,450, 30,520, 33,600, 36,650, 39,700, 42,750, 45,730, 48,780, 51,820, 54,850, 57,800, 60,750, 63,700, 66,650, 69,600, 72,570, 75,540, 78,520, 81,500, 84,480, 87,470, 90,450],
 [0,10, 3,12, 6,15, 9,14, 12,11, 15,9, 18,7, 21,8, 24,6, 27,5, 30,4, 33,5, 36,3, 39,4, 42,2.5, 45,3, 48,2, 51,2.5, 54,1.5, 57,2, 60,1, 63,1.4, 66,0.8, 69,1.2, 72,0.6, 75,1, 78,0.4, 81,0.7, 84,0.3],
 [0,10, 3,15, 6,22, 9,28, 12,25, 15,20, 18,16, 21,12, 24,9, 27,7, 30,8, 33,6, 36,5, 39,6, 42,4, 45,5, 48,3.5, 51,4, 54,3, 57,2.5, 60,3, 63,2, 66,2.5, 69,1.8, 72,2.2, 75,1.5, 78,2, 81,1.4, 84,1.7, 87,1.2, 90,1.5],
 [0,10, 3,8, 6,11, 9,9, 12,6, 15,7, 18,5, 21,3, 24,4, 27,2, 30,3, 33,1.5, 36,2, 39,1, 42,1.5, 45,3, 48,4, 51,5, 54,4, 57,6, 60,5, 63,7, 66,6, 69,8, 72,7, 75,9, 78,8, 81,6, 84,7, 87,5],
 [0,10, 3,20, 6,30, 9,35, 12,30, 15,25, 18,18, 21,14, 24,10, 27,11, 30,8, 33,9, 36,6, 39,7, 42,5, 45,6, 48,4, 51,5, 54,7, 57,6, 60,8, 63,7, 66,9, 69,8, 72,10, 75,9, 78,11, 81,10, 84,12, 87,11, 90,13],
 [0,10, 3,14, 6,18, 9,20, 12,16, 15,12, 18,10, 21,7, 24,5, 27,3, 30,2, 33,1.4, 36,1, 39,0.6, 42,0.3, 45,0.6, 48,1, 51,0.4, 54,0.14, 57,0.3, 60,0.6, 63,1, 66,1.6, 69,1.2, 72,2, 75,1.5, 78,1, 81,0.6, 84,1.2, 87,0.8],
 [0,10, 3,25, 6,40, 9,45, 12,40, 15,35, 18,28, 21,22, 24,17, 27,14, 30,11, 33,12, 36,9, 39,10, 42,7, 45,8, 48,5, 51,6, 54,4, 57,5, 60,3.5, 63,4, 66,3, 69,3.5, 72,2.5, 75,3, 78,2, 81,2.5, 84,1.8, 87,2.2, 90,1.5, 93,2],
 [0,10, 3,9, 6,7, 9,8, 12,5, 15,6, 18,4, 21,5, 24,3, 27,4, 30,6, 33,8, 36,7, 39,9, 42,12, 45,10, 48,13, 51,11, 54,9, 57,10, 60,8, 63,9, 66,7, 69,8, 72,6, 75,7, 78,5, 81,6, 84,4],
 [0,10, 3,16, 6,24, 9,30, 12,35, 15,38, 18,32, 21,28, 24,30, 27,25, 30,20, 33,22, 36,18, 39,15, 42,16, 45,12, 48,14, 51,11, 54,13, 57,10, 60,12, 63,9, 66,11, 69,8, 72,10, 75,12, 78,9, 81,11, 84,13, 87,10, 90,12],
 [0,10, 3,13, 6,11, 9,15, 12,13, 15,17, 18,14, 21,12, 24,15, 27,13, 30,16, 33,18, 36,15, 39,20, 42,17, 45,22, 48,19, 51,25, 54,21, 57,28, 60,24, 63,30, 66,26, 69,32, 72,28, 75,35, 78,30, 81,38],
 [0,10, 2,13, 4,16, 6,20, 8,24, 10,22, 12,18, 14,20, 16,15, 18,12, 20,14, 22,10, 24,8, 26,9, 28,6, 30,7, 32,4, 34,5, 36,3, 38,4, 40,2, 42,3, 44,1.5, 46,2, 48,1, 50,1.5, 52,0.6, 54,1, 56,0.3, 58,0.6, 60,0.14, 62,0.4, 64,0, 66,0.3, 68,0.6, 70,0.3],
 [0,10, 3,30, 6,55, 9,60, 12,55, 15,45, 18,38, 21,30, 24,24, 27,18, 30,15, 33,12, 36,9, 39,7, 42,5, 45,4, 48,3, 51,2.5, 54,2, 57,1.5, 60,1.8, 63,1.2, 66,1.5, 69,1, 72,0.8, 75,1.2, 78,0.6, 81,0.9, 84,0.5, 87,0.7, 90,0.4],
 [0,10, 3,11, 6,13, 9,12, 12,14, 15,11, 18,9, 21,10, 24,8, 27,9, 30,7, 33,8, 36,6, 39,7, 42,5, 45,6, 48,4, 51,5, 54,3, 57,4, 60,2.5, 63,3, 66,2, 69,2.5, 72,1.5, 75,2, 78,1.2, 81,1.5, 84,1, 87,1.3, 90,0.8, 93,1],
 [0,10, 3,6, 6,4, 9,5, 12,3, 15,2, 18,3, 21,1.5, 24,2, 27,1, 30,0.4, 33,0.8, 36,0.3, 39,0.6, 42,1.2, 45,2, 48,3, 51,2.4, 54,3.5, 57,2.5, 60,2, 63,1.4, 66,1.8, 69,1, 72,0.6, 75,1, 78,0.5],
 [0,10, 3,18, 6,25, 9,22, 12,28, 15,24, 18,20, 21,24, 24,19, 27,22, 30,17, 33,20, 36,15, 39,18, 42,14, 45,16, 48,12, 51,15, 54,11, 57,13, 60,10, 63,12, 66,9, 69,11, 72,8, 75,10, 78,7, 81,9, 84,6, 87,8],
 [0,10, 3,12, 6,9, 9,7, 12,9, 15,6, 18,8, 21,5, 24,7, 27,4, 30,5, 33,3, 36,4, 39,2.5, 42,3.5, 45,2, 48,2.5, 51,1.5, 54,2, 57,1, 60,1.5, 63,0.6, 66,1, 69,0.3, 72,0.6, 75,0.14, 78,0.4, 81,0, 84,0.14],
 [0,10, 2,14, 4,20, 6,28, 8,36, 10,45, 12,55, 14,65, 16,72, 18,78, 20,70, 22,75, 24,65, 26,60, 28,62, 30,55, 32,50, 34,52, 36,45, 38,40, 40,42, 42,36, 44,32, 46,34, 48,28, 50,25, 52,27, 54,22, 56,20, 58,21, 60,18, 62,16, 64,17, 66,14, 68,13, 70,12],
 [0,10, 2,12, 4,16, 6,22, 8,30, 10,40, 12,50, 14,58, 16,64, 18,60, 20,66, 22,58, 24,52, 26,56, 28,48, 30,42, 32,45, 34,38, 36,32, 38,35, 40,28, 42,25, 44,27, 46,22, 48,18, 50,20, 52,16, 54,14, 56,15, 58,12, 60,10, 62,11, 64,9, 66,8],
 [0,10, 2,18, 4,28, 6,40, 8,55, 10,70, 12,85, 14,95, 16,90, 18,100, 20,92, 22,85, 24,88, 26,78, 28,70, 30,72, 32,62, 34,56, 36,58, 38,50, 40,44, 42,46, 44,40, 46,36, 48,38, 50,32, 52,30, 54,33, 56,28, 58,26, 60,29, 62,24, 64,22, 66,25, 68,21, 70,19, 72,22, 74,18],
 [0,10, 2,11, 4,13, 6,16, 8,20, 10,24, 12,28, 14,33, 16,38, 18,42, 20,45, 22,48, 24,46, 26,50, 28,47, 30,44, 32,46, 34,42, 36,39, 38,41, 40,37, 42,34, 44,36, 46,32, 48,30, 50,33, 52,29, 54,27, 56,30, 58,26, 60,24, 62,27, 64,23, 66,22, 68,25, 70,21, 72,20],
 [0,10, 2,40, 4,120, 6,300, 8,700, 10,1300, 12,2000, 14,2700, 16,3200, 18,3500, 20,3300, 22,4500, 24,4200, 26,3000, 28,2200, 30,1500, 32,1000, 34,600, 36,400, 38,250, 40,150, 42,90, 44,50, 46,30, 48,22, 50,20, 52,25, 54,35, 56,50, 58,60, 60,70, 62,80, 64,90, 66,100, 68,95, 70,90, 72,85, 74,75, 76,60, 78,50, 80,45, 82,55, 84,70, 86,80, 88,75, 90,65, 92,60, 94,62, 96,68, 100,84, 103,72, 105,52, 106,35, 108,25, 109.5,18, 112,13.3, 115,9.2, 116,9.7, 117.7,7.3, 119,7.3, 120,3.9, 121.8,3.8, 123,2.7, 124,2.3, 126,6.4, 127,6.2, 129,7.3, 130,7.4, 131,8.4, 133,6.2, 134,7.3, 136,6, 137,6.8, 138,6, 139.4,5.7, 141.2,5.4, 143,5.3, 144.3,3.8, 145.2,5.8, 146.3,6.2, 147.2,7.3, 148,7.3]
];

// ---------- DRAWING ----------
const BG = '#fff1e5';
const FONT = 'Lato, "Open Sans", sans-serif';
const T = v => Math.log10(v + 1);
const pairsToPoints = arr => arr.map(p => ({x: p[0], y: T(p[1])}));
const flatToPoints = arr => { const out = []; for (let i = 0; i < arr.length; i += 2) out.push({x: arr[i], y: T(arr[i + 1])}); return out; };

const highlights = [
  {name: 'United States', data: unitedStates, color: '#15569b', text: '#15569b', width: 3.5, order: 0},
  {name: 'Japan', data: japan, color: '#7a0e32', text: '#7a0e32', width: 3.5, order: 1},
  {name: 'South Korea', data: southKorea, color: '#9fc35a', text: '#86a83c', width: 3.5, order: 2},
  {name: 'Australia', data: australia, color: '#d42c3f', text: '#d42c3f', width: 3.5, order: 3},
  {name: 'Thailand', data: thailand, color: '#3397d3', text: '#2d8ccb', width: 3.5, order: 4},
  {name: 'Iceland', data: iceland, color: '#e85a8d', text: '#e0508a', width: 3.5, order: 5},
  {name: 'Switzerland', data: switzerland, color: '#b5aca4', text: '#66605c', width: 3.2, order: 6, dot: '#aca39b'}
];

const datasets = [];
highlights.forEach(h => {
  const pts = pairsToPoints(h.data);
  const radii = pts.map((p, i) => i === pts.length - 1 ? 6 : 0);
  datasets.push({label: h.name, data: pts, borderColor: h.color, borderWidth: h.width,
    pointRadius: radii, pointHoverRadius: radii, pointBackgroundColor: h.dot || h.color, pointBorderWidth: 0,
    order: h.order, tension: 0, borderJoinStyle: 'round', borderCapStyle: 'round'});
});
otherCountries.forEach((arr, i) => {
  datasets.push({label: 'c' + i, data: flatToPoints(arr), borderColor: '#b5ada6', borderWidth: 1.2,
    pointRadius: 0, order: 10, tension: 0, borderJoinStyle: 'round'});
});

const endLabels = {
  id: 'endLabels',
  afterDatasetsDraw(chart) {
    const ctx = chart.ctx;
    ctx.save();
    ctx.font = '20px ' + FONT;
    ctx.textBaseline = 'middle';
    ctx.textAlign = 'left';
    const drawOrder = ['Switzerland', 'Iceland', 'Thailand', 'Australia', 'South Korea', 'Japan', 'United States'];
    drawOrder.forEach(name => {
      const idx = highlights.findIndex(h => h.name === name);
      const meta = chart.getDatasetMeta(idx);
      const pt = meta.data[meta.data.length - 1];
      const x = pt.x + 13, y = pt.y;
      ctx.lineWidth = 5; ctx.lineJoin = 'round'; ctx.strokeStyle = BG;
      ctx.strokeText(name, x, y);
      ctx.fillStyle = highlights[idx].text;
      ctx.fillText(name, x, y);
    });
    ctx.restore();
  }
};

function draw() {
  new Chart(document.getElementById('c'), {
    type: 'line',
    data: {datasets},
    plugins: [endLabels],
    options: {
      responsive: false, animation: false, events: [],
      layout: {autoPadding: false, padding: {top: 132, left: 0, right: 0, bottom: 0}},
      plugins: {legend: {display: false}, tooltip: {enabled: false}, title: {display: false}},
      scales: {
        x: {type: 'linear', min: 0, max: 148,
          afterBuildTicks: s => { s.ticks = xTicks.map(v => ({value: v})); },
          afterFit: s => { s.height = 119; },
          grid: {color: '#e6d8cc', lineWidth: 1, drawTicks: false},
          border: {display: true, color: '#8f8882', width: 2},
          ticks: {color: '#66605c', font: {family: FONT, size: 21}, padding: 4, maxRotation: 0}
        },
        y: {type: 'linear', min: 0, max: 4.49,
          afterBuildTicks: s => { s.ticks = yTickValues.map(v => ({value: T(v)})); },
          afterFit: s => { s.width = 109.3; },
          grid: {color: '#e6d8cc', lineWidth: 1, drawTicks: true, tickLength: 5},
          border: {display: false},
          ticks: {color: '#66605c', font: {family: FONT, size: 21}, padding: 2,
            callback: (val, i) => yTickLabels[i]}
        }
      }
    }
  });
}
(document.fonts && document.fonts.load ? document.fonts.load('20px Lato') : Promise.resolve()).then(draw, draw);
</script>
</body></html>
